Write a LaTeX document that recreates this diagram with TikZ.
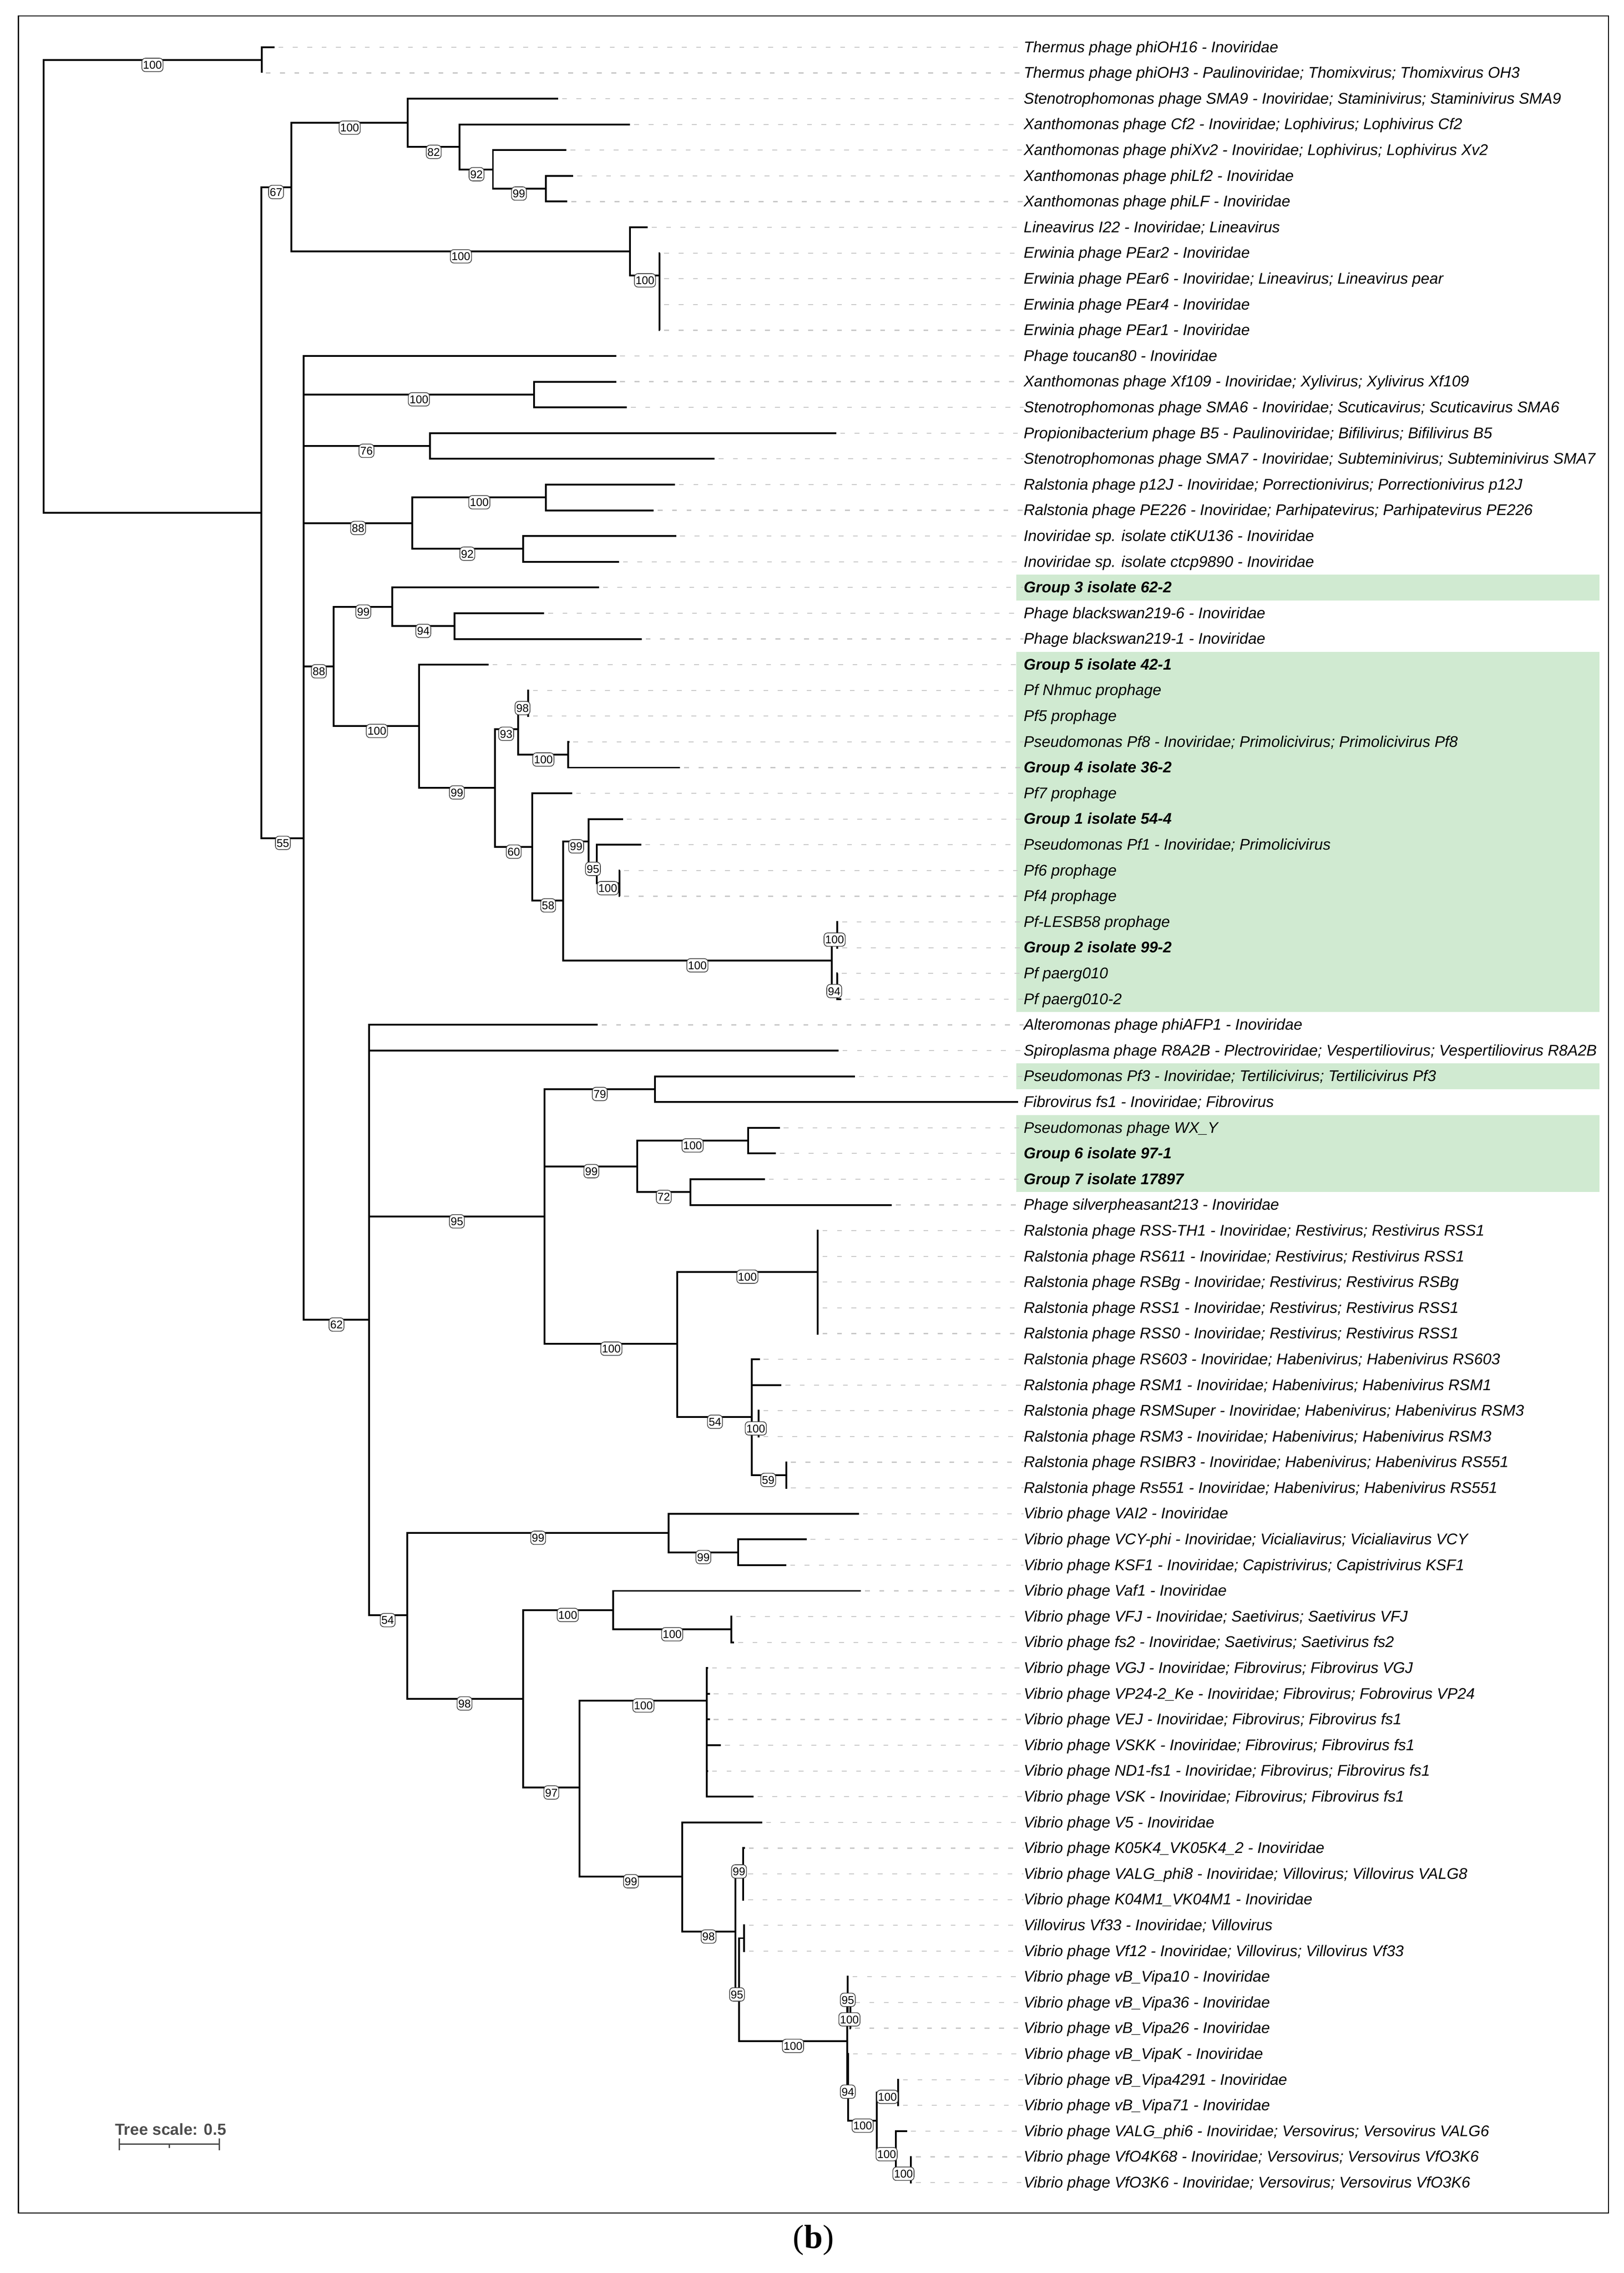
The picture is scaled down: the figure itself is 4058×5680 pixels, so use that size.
\documentclass[tikz,border=0pt]{standalone}
\usepackage{fontspec}
\setmainfont{Liberation Serif}
\newfontfamily\labfont{Liberation Sans}
\definecolor{hlgreen}{RGB}{208,234,209}
\tikzset{
  br/.style={line width=0.45mm, black},
  lead/.style={black!22, line width=0.25mm, dash pattern=on 1.2mm off 2.4mm},
  lab/.style={anchor=base west, inner sep=0pt, font=\labfont\itshape\fontsize{11}{12}\selectfont, yshift=-1.28mm},
  bsl/.style={draw=black!75, fill=white, rounded corners=0.9mm, line width=0.18mm, inner xsep=0.3mm, inner ysep=0.65mm, text height=2.05mm, text depth=0pt, font=\labfont\fontsize{8}{9}\selectfont, yshift=-1.2mm},
  scl/.style={black!70, line width=0.33mm},
}
\newcommand\lf[4]{\coordinate (t#1) at (#3,#2);\node[lab] (L#1) at (2558,#2) {#4};\draw[lead] ([xshift=1mm]t#1) -- (L#1.west |- t#1);}
\newcommand\cn[2]{\foreach \c in {#2} {\draw[br] (#1) |- (\c);}}
\newcommand\bs[4]{\node[bsl] (b#1) at (#2,#3) {#4};}
\begin{document}
\begin{tikzpicture}[x=0.1mm,y=-0.1mm]
\useasboundingbox (0,0) rectangle (4058,5680);
\fill[white] (0,0) rectangle (4058,5680);
\draw[line width=0.28mm] (46,40) rectangle (4020,5530);
\begin{scope}[yshift=-11.8mm, y=-6.429mm]
% highlights
\fill[hlgreen] (2540,20.5) rectangle (3998,21.5);
\fill[hlgreen] (2540,23.5) rectangle (3998,37.5);
\fill[hlgreen] (2540,39.5) rectangle (3998,40.5);
\fill[hlgreen] (2540,41.5) rectangle (3998,44.5);
% leaves
\lf{1}{0}{686}{Thermus phage phiOH16 - Inoviridae}
\lf{2}{1}{654}{Thermus phage phiOH3 - Paulinoviridae; Thomixvirus; Thomixvirus OH3}
\lf{3}{2}{1395}{Stenotrophomonas phage SMA9 - Inoviridae; Staminivirus; Staminivirus SMA9}
\lf{4}{3}{1575}{Xanthomonas phage Cf2 - Inoviridae; Lophivirus; Lophivirus Cf2}
\lf{5}{4}{1416}{Xanthomonas phage phiXv2 - Inoviridae; Lophivirus; Lophivirus Xv2}
\lf{6}{5}{1433}{Xanthomonas phage phiLf2 - Inoviridae}
\lf{7}{6}{1418}{Xanthomonas phage phiLF - Inoviridae}
\lf{8}{7}{1619}{Lineavirus I22 - Inoviridae; Lineavirus}
\lf{9}{8}{1650}{Erwinia phage PEar2 - Inoviridae}
\lf{10}{9}{1650}{Erwinia phage PEar6 - Inoviridae; Lineavirus; Lineavirus pear}
\lf{11}{10}{1650}{Erwinia phage PEar4 - Inoviridae}
\lf{12}{11}{1650}{Erwinia phage PEar1 - Inoviridae}
\lf{13}{12}{1540}{Phage toucan80 - Inoviridae}
\lf{14}{13}{1540}{Xanthomonas phage Xf109 - Inoviridae; Xylivirus; Xylivirus Xf109}
\lf{15}{14}{1567}{Stenotrophomonas phage SMA6 - Inoviridae; Scuticavirus; Scuticavirus SMA6}
\lf{16}{15}{2090}{Propionibacterium phage B5 - Paulinoviridae; Bifilivirus; Bifilivirus B5}
\lf{17}{16}{1786}{Stenotrophomonas phage SMA7 - Inoviridae; Subteminivirus; Subteminivirus SMA7}
\lf{18}{17}{1687}{Ralstonia phage p12J - Inoviridae; Porrectionivirus; Porrectionivirus p12J}
\lf{19}{18}{1634}{Ralstonia phage PE226 - Inoviridae; Parhipatevirus; Parhipatevirus PE226}
\lf{20}{19}{1690}{Inoviridae sp. isolate ctiKU136 - Inoviridae}
\lf{21}{20}{1547}{Inoviridae sp. isolate ctcp9890 - Inoviridae}
\lf{22}{21}{1497}{\textbf{Group 3 isolate 62-2}}
\lf{23}{22}{1360}{Phage blackswan219-6 - Inoviridae}
\lf{24}{23}{1604}{Phage blackswan219-1 - Inoviridae}
\lf{25}{24}{1221}{\textbf{Group 5 isolate 42-1}}
\lf{26}{25}{1322}{Pf Nhmuc prophage}
\lf{27}{26}{1322}{Pf5 prophage}
\lf{28}{27}{1423}{Pseudomonas Pf8 - Inoviridae; Primolicivirus; Primolicivirus Pf8}
\lf{29}{28}{1700}{\textbf{Group 4 isolate 36-2}}
\lf{30}{29}{1430}{Pf7 prophage}
\lf{31}{30}{1557}{\textbf{Group 1 isolate 54-4}}
\lf{32}{31}{1603}{Pseudomonas Pf1 - Inoviridae; Primolicivirus}
\lf{33}{32}{1550}{Pf6 prophage}
\lf{34}{33}{1550}{Pf4 prophage}
\lf{35}{34}{2095}{Pf-LESB58 prophage}
\lf{36}{35}{2095}{\textbf{Group 2 isolate 99-2}}
\lf{37}{36}{2094}{Pf paerg010}
\lf{38}{37}{2103}{Pf paerg010-2}
\lf{39}{38}{1494}{Alteromonas phage phiAFP1 - Inoviridae}
\lf{40}{39}{2096}{Spiroplasma phage R8A2B - Plectroviridae; Vespertiliovirus; Vespertiliovirus R8A2B}
\lf{41}{40}{2137}{Pseudomonas Pf3 - Inoviridae; Tertilicivirus; Tertilicivirus Pf3}
\lf{42}{41}{2545}{Fibrovirus fs1 - Inoviridae; Fibrovirus}
\lf{43}{42}{1949}{Pseudomonas phage WX\_Y}
\lf{44}{43}{1939}{\textbf{Group 6 isolate 97-1}}
\lf{45}{44}{1912}{\textbf{Group 7 isolate 17897}}
\lf{46}{45}{2229}{Phage silverpheasant213 - Inoviridae}
\lf{47}{46}{2046}{Ralstonia phage RSS-TH1 - Inoviridae; Restivirus; Restivirus RSS1}
\lf{48}{47}{2046}{Ralstonia phage RS611 - Inoviridae; Restivirus; Restivirus RSS1}
\lf{49}{48}{2046}{Ralstonia phage RSBg - Inoviridae; Restivirus; Restivirus RSBg}
\lf{50}{49}{2046}{Ralstonia phage RSS1 - Inoviridae; Restivirus; Restivirus RSS1}
\lf{51}{50}{2046}{Ralstonia phage RSS0 - Inoviridae; Restivirus; Restivirus RSS1}
\lf{52}{51}{1899}{Ralstonia phage RS603 - Inoviridae; Habenivirus; Habenivirus RS603}
\lf{53}{52}{1953}{Ralstonia phage RSM1 - Inoviridae; Habenivirus; Habenivirus RSM1}
\lf{54}{53}{1898}{Ralstonia phage RSMSuper - Inoviridae; Habenivirus; Habenivirus RSM3}
\lf{55}{54}{1898}{Ralstonia phage RSM3 - Inoviridae; Habenivirus; Habenivirus RSM3}
\lf{56}{55}{1967}{Ralstonia phage RSIBR3 - Inoviridae; Habenivirus; Habenivirus RS551}
\lf{57}{56}{1967}{Ralstonia phage Rs551 - Inoviridae; Habenivirus; Habenivirus RS551}
\lf{58}{57}{2147}{Vibrio phage VAI2 - Inoviridae}
\lf{59}{58}{2016}{Vibrio phage VCY-phi - Inoviridae; Vicialiavirus; Vicialiavirus VCY}
\lf{60}{59}{1965}{Vibrio phage KSF1 - Inoviridae; Capistrivirus; Capistrivirus KSF1}
\lf{61}{60}{2152}{Vibrio phage Vaf1 - Inoviridae}
\lf{62}{61}{1830}{Vibrio phage VFJ - Inoviridae; Saetivirus; Saetivirus VFJ}
\lf{63}{62}{1835}{Vibrio phage fs2 - Inoviridae; Saetivirus; Saetivirus fs2}
\lf{64}{63}{1770}{Vibrio phage VGJ - Inoviridae; Fibrovirus; Fibrovirus VGJ}
\lf{65}{64}{1774}{Vibrio phage VP24-2\_Ke - Inoviridae; Fibrovirus; Fobrovirus VP24}
\lf{66}{65}{1774}{Vibrio phage VEJ - Inoviridae; Fibrovirus; Fibrovirus fs1}
\lf{67}{66}{1802}{Vibrio phage VSKK - Inoviridae; Fibrovirus; Fibrovirus fs1}
\lf{68}{67}{1770}{Vibrio phage ND1-fs1 - Inoviridae; Fibrovirus; Fibrovirus fs1}
\lf{69}{68}{1884}{Vibrio phage VSK - Inoviridae; Fibrovirus; Fibrovirus fs1}
\lf{70}{69}{1905}{Vibrio phage V5 - Inoviridae}
\lf{71}{70}{1862}{Vibrio phage K05K4\_VK05K4\_2 - Inoviridae}
\lf{72}{71}{1860}{Vibrio phage VALG\_phi8 - Inoviridae; Villovirus; Villovirus VALG8}
\lf{73}{72}{1860}{Vibrio phage K04M1\_VK04M1 - Inoviridae}
\lf{74}{73}{1862}{Villovirus Vf33 - Inoviridae; Villovirus}
\lf{75}{74}{1862}{Vibrio phage Vf12 - Inoviridae; Villovirus; Villovirus Vf33}
\lf{76}{75}{2121}{Vibrio phage vB\_Vipa10 - Inoviridae}
\lf{77}{76}{2127}{Vibrio phage vB\_Vipa36 - Inoviridae}
\lf{78}{77}{2127}{Vibrio phage vB\_Vipa26 - Inoviridae}
\lf{79}{78}{2122}{Vibrio phage vB\_VipaK - Inoviridae}
\lf{80}{79}{2247}{Vibrio phage vB\_Vipa4291 - Inoviridae}
\lf{81}{80}{2247}{Vibrio phage vB\_Vipa71 - Inoviridae}
\lf{82}{81}{2267}{Vibrio phage VALG\_phi6 - Inoviridae; Versovirus; Versovirus VALG6}
\lf{83}{82}{2279}{Vibrio phage VfO4K68 - Inoviridae; Versovirus; Versovirus VfO3K6}
\lf{84}{83}{2279}{Vibrio phage VfO3K6 - Inoviridae; Versovirus; Versovirus VfO3K6}
% internal nodes
\coordinate (R) at (109,9.3);
\coordinate (Th) at (654,0.5);
\coordinate (B) at (653,18.09);
\coordinate (N67) at (728,5.44);
\coordinate (N100a) at (1019,2.94);
\coordinate (N82) at (1149,3.88);
\coordinate (N92) at (1232,4.75);
\coordinate (N99a) at (1364,5.5);
\coordinate (NLin) at (1575,7.94);
\coordinate (NE) at (1648,8.875);
\coordinate (N55) at (759,30.74);
\coordinate (NXf) at (1335,13.5);
\coordinate (N76) at (1075,15.5);
\coordinate (N88a) at (1030,18.5);
\coordinate (N100b) at (1364,17.5);
\coordinate (N92b) at (1307,19.5);
\coordinate (N88b) at (834,24.07);
\coordinate (N99b) at (980,21.75);
\coordinate (N94) at (1136,22.5);
\coordinate (N100c) at (1047,26.39);
\coordinate (N99c) at (1237,28.78);
\coordinate (N93) at (1295,26.5);
\coordinate (N98) at (1320,25.5);
\coordinate (N100d) at (1420,27.5);
\coordinate (N60) at (1330,31.08);
\coordinate (N58) at (1407,33.17);
\coordinate (N99d) at (1471,30.875);
\coordinate (N95a) at (1492,31.75);
\coordinate (N100e) at (1548,32.5);
\coordinate (N100f) at (2079,35.5);
\coordinate (N100g) at (2092,34.5);
\coordinate (N94b) at (2092,36.5);
\coordinate (N62) at (922,49.46);
\coordinate (N95b) at (1361,45.45);
\coordinate (N79) at (1637,40.5);
\coordinate (N99e) at (1593,43.5);
\coordinate (N100h) at (1870,42.5);
\coordinate (N72) at (1726,44.5);
\coordinate (N100i) at (1693,50.4);
\coordinate (N100j) at (2044,47.6);
\coordinate (N54a) at (1879,53.24);
\coordinate (N100k) at (1896,53.5);
\coordinate (N59) at (1965,55.5);
\coordinate (N54b) at (1018,60.95);
\coordinate (N99f) at (1671,57.75);
\coordinate (N99g) at (1845,58.5);
\coordinate (N98b) at (1307,64.19);
\coordinate (N100l) at (1532,60.75);
\coordinate (N100m) at (1828,61.5);
\coordinate (N97) at (1448,67.65);
\coordinate (N100n) at (1766,64.27);
\coordinate (N99h) at (1705,71.1);
\coordinate (N98c) at (1838,73.25);
\coordinate (N99i) at (1857,71);
\coordinate (N95c) at (1847,75.5);
\coordinate (Nvf) at (1860,73.5);
\coordinate (N100v) at (2118,77.5);
\coordinate (N95d) at (2119,75.75);
\coordinate (N100w) at (2125,76.5);
\coordinate (N94c) at (2120,79.3);
\coordinate (N100x) at (2191,80.6);
\coordinate (N100y) at (2245,79.5);
\coordinate (N100z) at (2239,81.75);
\coordinate (N100aa) at (2277,82.5);
% connectors
\cn{R}{Th,B}
\cn{Th}{t1,t2}
\cn{B}{N67,N55}
\cn{N67}{N100a,NLin}
\cn{N100a}{t3,N82}
\cn{N82}{t4,N92}
\cn{N92}{t5,N99a}
\cn{N99a}{t6,t7}
\cn{NLin}{t8,NE}
\cn{NE}{t9,t10,t11,t12}
\cn{N55}{t13,NXf,N76,N88a,N88b,N62}
\cn{NXf}{t14,t15}
\cn{N76}{t16,t17}
\cn{N88a}{N100b,N92b}
\cn{N100b}{t18,t19}
\cn{N92b}{t20,t21}
\cn{N88b}{N99b,N100c}
\cn{N99b}{t22,N94}
\cn{N94}{t23,t24}
\cn{N100c}{t25,N99c}
\cn{N99c}{N93,N60}
\cn{N93}{N98,N100d}
\cn{N98}{t26,t27}
\cn{N100d}{t28,t29}
\cn{N60}{t30,N58}
\cn{N58}{N99d,N100f}
\cn{N99d}{t31,N95a}
\cn{N95a}{t32,N100e}
\cn{N100e}{t33,t34}
\cn{N100f}{N100g,N94b}
\cn{N100g}{t35,t36}
\cn{N94b}{t37,t38}
\cn{N62}{t39,t40,N95b,N54b}
\cn{N95b}{N79,N99e,N100i}
\cn{N79}{t41,t42}
\cn{N99e}{N100h,N72}
\cn{N100h}{t43,t44}
\cn{N72}{t45,t46}
\cn{N100i}{N100j,N54a}
\cn{N100j}{t47,t48,t49,t50,t51}
\cn{N54a}{t52,t53,N100k,N59}
\cn{N100k}{t54,t55}
\cn{N59}{t56,t57}
\cn{N54b}{N99f,N98b}
\cn{N99f}{t58,N99g}
\cn{N99g}{t59,t60}
\cn{N98b}{N100l,N97}
\cn{N100l}{t61,N100m}
\cn{N100m}{t62,t63}
\cn{N97}{N100n,N99h}
\cn{N100n}{t64,t65,t66,t67,t68,t69}
\cn{N99h}{t70,N98c}
\cn{N98c}{N99i,N95c}
\cn{N99i}{t71,t72,t73}
\cn{N95c}{Nvf,N100v}
\cn{Nvf}{t74,t75}
\cn{N100v}{N95d,N94c}
\cn{N95d}{t76,N100w}
\cn{N100w}{t77,t78}
\cn{N94c}{t79,N100x}
\cn{N100x}{N100y,N100z}
\cn{N100y}{t80,t81}
\cn{N100z}{t82,N100aa}
\cn{N100aa}{t83,t84}
% bootstrap labels
\bs{1}{381}{0.5}{100}
\bs{2}{690}{5.44}{67}
\bs{3}{874}{2.94}{100}
\bs{4}{1084}{3.88}{82}
\bs{5}{1191}{4.75}{92}
\bs{6}{1297}{5.5}{99}
\bs{7}{1152}{7.94}{100}
\bs{8}{1612}{8.875}{100}
\bs{9}{707}{30.74}{55}
\bs{10}{1047}{13.5}{100}
\bs{11}{916}{15.5}{76}
\bs{12}{895}{18.5}{88}
\bs{13}{1198}{17.5}{100}
\bs{14}{1168}{19.5}{92}
\bs{15}{797}{24.07}{88}
\bs{16}{908}{21.75}{99}
\bs{17}{1058}{22.5}{94}
\bs{18}{942}{26.39}{100}
\bs{19}{1142}{28.78}{99}
\bs{20}{1265}{26.5}{93}
\bs{21}{1306}{25.5}{98}
\bs{22}{1358}{27.5}{100}
\bs{23}{1284}{31.08}{60}
\bs{24}{1370}{33.17}{58}
\bs{25}{1440}{30.875}{99}
\bs{26}{1482}{31.75}{95}
\bs{27}{1519}{32.5}{100}
\bs{28}{1743}{35.5}{100}
\bs{29}{2086}{34.5}{100}
\bs{30}{2085}{36.5}{94}
\bs{31}{841}{49.46}{62}
\bs{32}{1142}{45.45}{95}
\bs{33}{1499}{40.5}{79}
\bs{34}{1478}{43.5}{99}
\bs{35}{1731}{42.5}{100}
\bs{36}{1659}{44.5}{72}
\bs{37}{1528}{50.4}{100}
\bs{38}{1868}{47.6}{100}
\bs{39}{1787}{53.24}{54}
\bs{40}{1889}{53.5}{100}
\bs{41}{1920}{55.5}{59}
\bs{42}{969}{60.95}{54}
\bs{43}{1345}{57.75}{99}
\bs{44}{1758}{58.5}{99}
\bs{45}{1161}{64.19}{98}
\bs{46}{1419}{60.75}{100}
\bs{47}{1680}{61.5}{100}
\bs{48}{1378}{67.65}{97}
\bs{49}{1608}{64.27}{100}
\bs{50}{1577}{71.1}{99}
\bs{51}{1771}{73.25}{98}
\bs{52}{1847}{70.72}{99}
\bs{53}{1842}{75.5}{95}
\bs{54}{1982}{77.5}{100}
\bs{55}{2119}{75.71}{95}
\bs{56}{2123}{76.47}{100}
\bs{57}{2119}{79.28}{94}
\bs{58}{2156}{80.6}{100}
\bs{59}{2218}{79.48}{100}
\bs{60}{2216}{81.71}{100}
\bs{61}{2258}{82.47}{100}
\end{scope}
% tree scale
\node[font=\labfont\bfseries\fontsize{11.4}{13}\selectfont, text=black!70, anchor=base west, inner sep=0pt] (ts) at (287,5335) {Tree scale: 0.5};
\coordinate (sa) at (298,5358);
\coordinate (sm) at (423,5358);
\coordinate (sb) at (548,5358);
\draw[scl] (sa) -- (sb);
\draw[scl] (sa) ++(0,-14) -- ++(0,29);
\draw[scl] (sb) ++(0,-14) -- ++(0,29);
\draw[scl] (sm) -- ++(0,10);
% caption
\node[font=\fontsize{23.8}{26}\selectfont, inner sep=0pt] (cap) at (2033,5598) {(\textbf{b})};
\end{tikzpicture}
\end{document}
